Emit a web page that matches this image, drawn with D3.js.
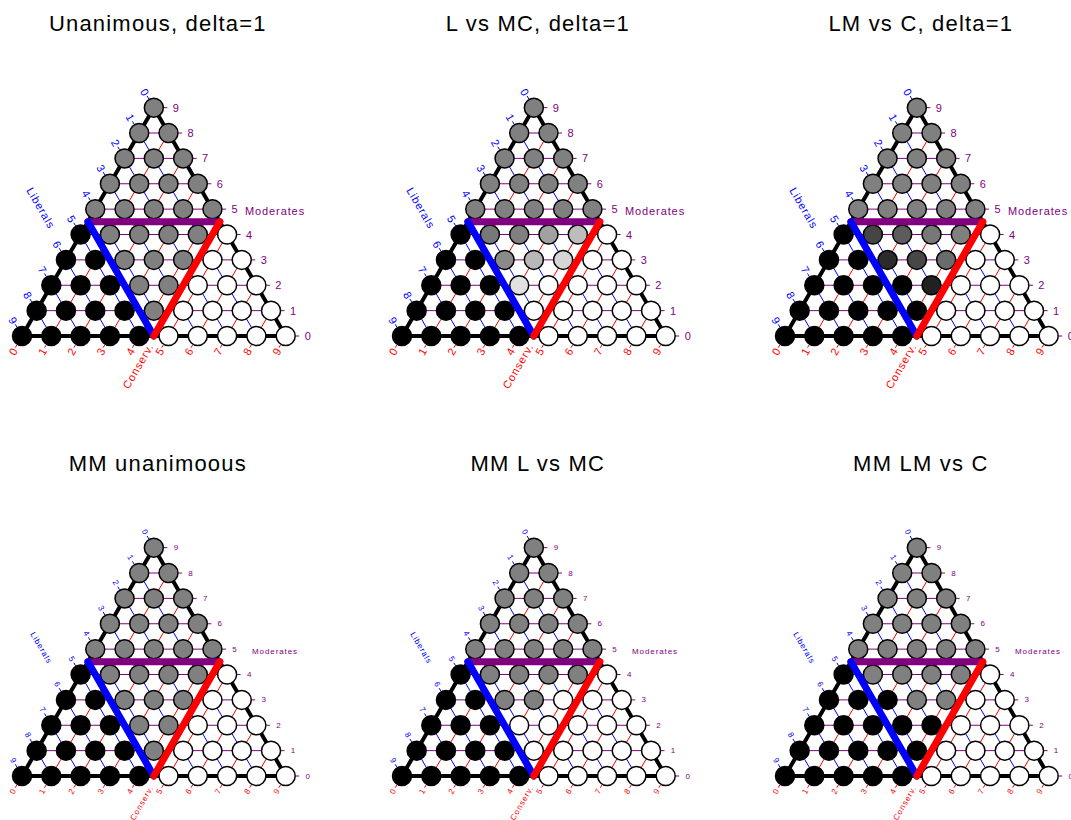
<!DOCTYPE html>
<html>
<head>
<meta charset="utf-8">
<script src="https://cdn.jsdelivr.net/npm/d3@7"></script>
<style>
  body { margin: 0; background: #fff; }
  svg { display: block; font-family: "Liberation Sans", Arial, sans-serif; }
</style>
</head>
<body>
<svg id="chart" width="1071" height="820"></svg>
<script>
// panel titles, in reading order
var titles = ["Unanimous, delta=1", "L vs MC, delta=1", "LM vs C, delta=1",
    "MM unanimoous", "MM L vs MC", "MM LM vs C"];
var axisNames = ["Liberals", "Moderates", "Conserv."];
var tickLabels = ["0", "1", "2", "3", "4", "5", "6", "7", "8", "9"];

// grey level of every point (0 = black, 1 = white)
// one row per Moderates value (0 at the bottom), left to right = Conserv. 0..
var unanimousShades = [
    [0, 0, 0, 0, 0, 1, 1, 1, 1, 1],
    [0, 0, 0, 0, .5, 1, 1, 1, 1],
    [0, 0, 0, .5, .5, 1, 1, 1],
    [0, 0, .5, .5, .5, 1, 1],
    [0, .5, .5, .5, .5, 1],
    [.5, .5, .5, .5, .5],
    [.5, .5, .5, .5],
    [.5, .5, .5],
    [.5, .5],
    [.5]
];
var lVsMcShades = [
    [0, 0, 0, 0, 0, 1, 1, 1, 1, 1],
    [0, 0, 0, 0, 1, 1, 1, 1, 1],
    [0, 0, 0, .88, 1, 1, 1, 1],
    [0, 0, .54, .72, .84, 1, 1],
    [0, .47, .5, .63, .74, 1],
    [.5, .5, .5, .5, .5],
    [.5, .5, .5, .5],
    [.5, .5, .5],
    [.5, .5],
    [.5]
];
var lmVsCShades = [
    [0, 0, 0, 0, 0, 1, 1, 1, 1, 1],
    [0, 0, 0, 0, 0, 1, 1, 1, 1],
    [0, 0, 0, 0, .13, 1, 1, 1],
    [0, 0, .17, .28, .42, 1, 1],
    [0, .27, .36, .47, .5, 1],
    [.5, .5, .5, .5, .5],
    [.5, .5, .5, .5],
    [.5, .5, .5],
    [.5, .5],
    [.5]
];
var mmUnanimousShades = [
    [0, 0, 0, 0, 0, 1, 1, 1, 1, 1],
    [0, 0, 0, 0, .5, 1, 1, 1, 1],
    [0, 0, 0, .5, .5, 1, 1, 1],
    [0, 0, .5, .5, .5, 1, 1],
    [0, .5, .5, .5, .5, 1],
    [.5, .5, .5, .5, .5],
    [.5, .5, .5, .5],
    [.5, .5, .5],
    [.5, .5],
    [.5]
];
var mmLVsMcShades = [
    [0, 0, 0, 0, 0, 1, 1, 1, 1, 1],
    [0, 0, 0, 0, 1, 1, 1, 1, 1],
    [0, 0, 0, 1, 1, 1, 1, 1],
    [0, 0, .5, .5, 1, 1, 1],
    [0, .5, .5, .5, .5, 1],
    [.5, .5, .5, .5, .5],
    [.5, .5, .5, .5],
    [.5, .5, .5],
    [.5, .5],
    [.5]
];
var mmLmVsCShades = [
    [0, 0, 0, 0, 0, 1, 1, 1, 1, 1],
    [0, 0, 0, 0, 0, 1, 1, 1, 1],
    [0, 0, 0, 0, 0, 1, 1, 1],
    [0, 0, 0, .5, .5, 1, 1],
    [0, .5, .5, .5, .5, 1],
    [.5, .5, .5, .5, .5],
    [.5, .5, .5, .5],
    [.5, .5, .5],
    [.5, .5],
    [.5]
];
var panelShades = [unanimousShades, lVsMcShades, lmVsCShades,
    mmUnanimousShades, mmLVsMcShades, mmLmVsCShades];

// layout
var step = 29.3, rowH = step * Math.sqrt(3) / 2;
var colLeft = [22, 402, 785], rowBottom = [336, 776];
var BLUE = "#0000ff", RED = "#ff0000", PURPLE = "#800080";

var svg = d3.select("#chart");

var drawTernary = function (g, title, shades, x0, bottom, small) {
    var x = d3.scaleLinear().domain([0, 9]).range([x0, x0 + 9 * step]);
    var y = d3.scaleLinear().domain([0, 9]).range([bottom, bottom - 9 * rowH]);
    // c = Conserv., m = Moderates (Liberals = 9 - c - m)
    var px = function (c, m) { return x(c + m / 2); };
    var line = d3.line()
        .x(function (d) { return px(d[0], d[1]); })
        .y(function (d) { return y(d[1]); });
    var fs = small ? 8 : 11;

    // title
    g.append("text")
        .attr("x", px(0, 9) + 4)
        .attr("y", bottom - 305)
        .attr("text-anchor", "middle")
        .attr("style", "font-size: 22px; letter-spacing: 1.2px;")
        .attr("fill", "#000")
        .text(title);

    // thin grid lines
    var ks = d3.range(1, 9);
    g.append("g").selectAll("path.m").data(ks).enter().append("path")
        .attr("d", function (k) { return line([[0, k], [9 - k, k]]); })
        .attr("stroke", PURPLE).attr("stroke-width", 1).attr("fill", "none");
    g.append("g").selectAll("path.c").data(ks).enter().append("path")
        .attr("d", function (k) { return line([[k, 0], [k, 9 - k]]); })
        .attr("stroke", RED).attr("stroke-width", 1).attr("fill", "none");
    g.append("g").selectAll("path.l").data(ks).enter().append("path")
        .attr("d", function (k) { return line([[9 - k, 0], [0, 9 - k]]); })
        .attr("stroke", BLUE).attr("stroke-width", 1).attr("fill", "none");

    // outer border
    g.append("path")
        .attr("d", line([[0, 0], [9, 0], [0, 9], [0, 0]]))
        .attr("stroke", "black").attr("stroke-width", 4)
        .attr("stroke-linejoin", "round").attr("fill", "none");

    // ticks and tick labels
    var axes = [
        { color: BLUE, dx: -0.5, dy: -0.866, dist: 18, rot: 60,
          at: function (i) { return [0, 9 - i]; } },
        { color: RED, dx: -0.5, dy: 0.866, dist: 18, rot: -60,
          at: function (i) { return [i, 0]; } },
        { color: PURPLE, dx: 1, dy: 0, dist: 22, rot: 0,
          at: function (i) { return [9 - i, i]; } }
    ];
    axes.forEach(function (a) {
        tickLabels.forEach(function (lab, i) {
            var p = a.at(i), cx = px(p[0], p[1]), cy = y(p[1]);
            g.append("line")
                .attr("x1", cx + a.dx * 10).attr("y1", cy + a.dy * 10)
                .attr("x2", cx + a.dx * 13.5).attr("y2", cy + a.dy * 13.5)
                .attr("stroke", a.color).attr("stroke-width", 1);
            var tx = cx + a.dx * a.dist, ty = cy + a.dy * a.dist;
            g.append("text")
                .attr("transform", "translate(" + tx + "," + ty + ") rotate(" + a.rot + ")")
                .attr("text-anchor", "middle")
                .attr("dominant-baseline", "central")
                .attr("fill", a.color)
                .attr("style", "font-size: " + fs + "px;")
                .text(lab);
        });
    });

    // axis names
    var nameStyle = "font-size: " + fs + "px; letter-spacing: 0.9px;";
    g.append("text")
        .attr("transform", "translate(" + (x0 + 19) + "," + (bottom - 128) + ") rotate(60)")
        .attr("text-anchor", "middle").attr("dominant-baseline", "central")
        .attr("fill", BLUE).attr("style", nameStyle).text(axisNames[0]);
    g.append("text")
        .attr("transform", "translate(" + (x0 + 253) + "," + (bottom - 125) + ")")
        .attr("text-anchor", "middle").attr("dominant-baseline", "central")
        .attr("fill", PURPLE).attr("style", nameStyle).text(axisNames[1]);
    g.append("text")
        .attr("transform", "translate(" + (x0 + (small ? 120 : 116)) + "," + (bottom + (small ? 27 : 30)) + ") rotate(-60)")
        .attr("text-anchor", "middle").attr("dominant-baseline", "central")
        .attr("fill", RED).attr("style", nameStyle).text(axisNames[2]);

    // points
    var pts = [];
    shades.forEach(function (row, m) {
        row.forEach(function (v, c) { pts.push({ c: c, m: m, v: v }); });
    });
    g.append("g").selectAll("circle").data(pts).enter().append("circle")
        .attr("cx", function (d) { return px(d.c, d.m); })
        .attr("cy", function (d) { return y(d.m); })
        .attr("r", 9.5)
        .attr("fill", function (d) { var k = Math.round(d.v * 255); return d3.rgb(k, k, k); })
        .attr("stroke", "black")
        .attr("stroke-width", 1.5);

    // the three half-way lines
    g.append("path").attr("d", line([[0, 4.5], [4.5, 4.5]]))
        .attr("stroke", PURPLE).attr("stroke-width", 7).attr("stroke-linecap", "round").attr("fill", "none");
    g.append("path").attr("d", line([[0, 4.5], [4.5, 0]]))
        .attr("stroke", BLUE).attr("stroke-width", 7).attr("stroke-linecap", "round").attr("fill", "none");
    g.append("path").attr("d", line([[4.5, 0], [4.5, 4.5]]))
        .attr("stroke", RED).attr("stroke-width", 7).attr("stroke-linecap", "round").attr("fill", "none");
};

titles.forEach(function (t, i) {
    var col = i % 3, row = Math.floor(i / 3);
    drawTernary(svg.append("g"), t, panelShades[i], colLeft[col], rowBottom[row], row === 1);
});
</script>
</body>
</html>
